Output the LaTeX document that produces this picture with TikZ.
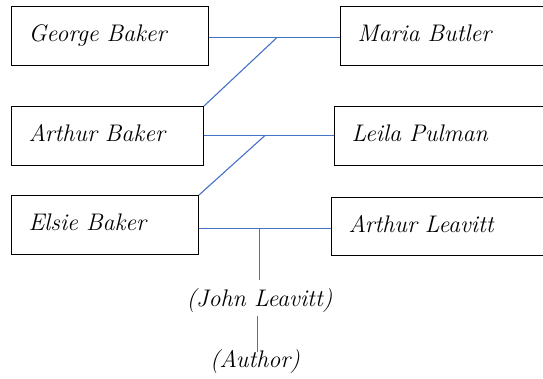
\documentclass[tikz,border=0pt]{standalone}
\usepackage{tikz}
\definecolor{linkblue}{HTML}{4472C4}
\begin{document}
\begin{tikzpicture}[x=1pt,y=-1pt,
  every node/.style={font=\fontsize{24}{28}\selectfont\itshape},
  personbox/.style={draw, line width=1pt, inner xsep=17pt, inner ysep=4pt,
    minimum height=59pt, text height=12pt, text depth=0pt, align=left, anchor=north west},
  link/.style={draw=linkblue, line width=1.1pt}]
\useasboundingbox (0,0) rectangle (543,379);
\clip (0,0) rectangle (543,379);
\node[personbox, text width=163pt] (george) at (11,6) {George Baker};
\node[personbox, text width=196pt] (maria) at (340,6) {Maria Butler};
\node[personbox, text width=158pt] (arthurb) at (11,106) {Arthur Baker};
\node[personbox, text width=196pt] (leila) at (334,106) {Leila Pulman};
\node[personbox, text width=153pt] (elsie) at (11,195) {Elsie Baker};
\node[personbox, text width=196pt, minimum height=58pt] (leavitt) at (331,197) {Arthur Leavitt};
\node[anchor=base, inner xsep=0pt, inner ysep=5pt, text height=21pt, text depth=5pt] (john) at (259.5,306) {(John Leavitt)};
\node[anchor=base, inner sep=0pt, text height=15pt, text depth=5pt] (author) at (255,367) {(Author)};
\coordinate (j1) at (277,37.5);
\coordinate (j2) at (265,135.5);
\coordinate (j3) at (259.5,228.5);
\draw[link] (j1 -| george.east) -- (j1 -| maria.west);
\draw[link] (j1) -- (arthurb.north east);
\draw[link] (j2 -| arthurb.east) -- (j2 -| leila.west);
\draw[link] (j2) -- (elsie.north east);
\draw[link] (j3 -| elsie.east) -- (j3 -| leavitt.west);
\draw[link] (j3) -- (j3 |- john.north);
\draw[link] ([xshift=-2pt]john.south) -- ([xshift=-2pt]john.south |- author.north);
\end{tikzpicture}
\end{document}
